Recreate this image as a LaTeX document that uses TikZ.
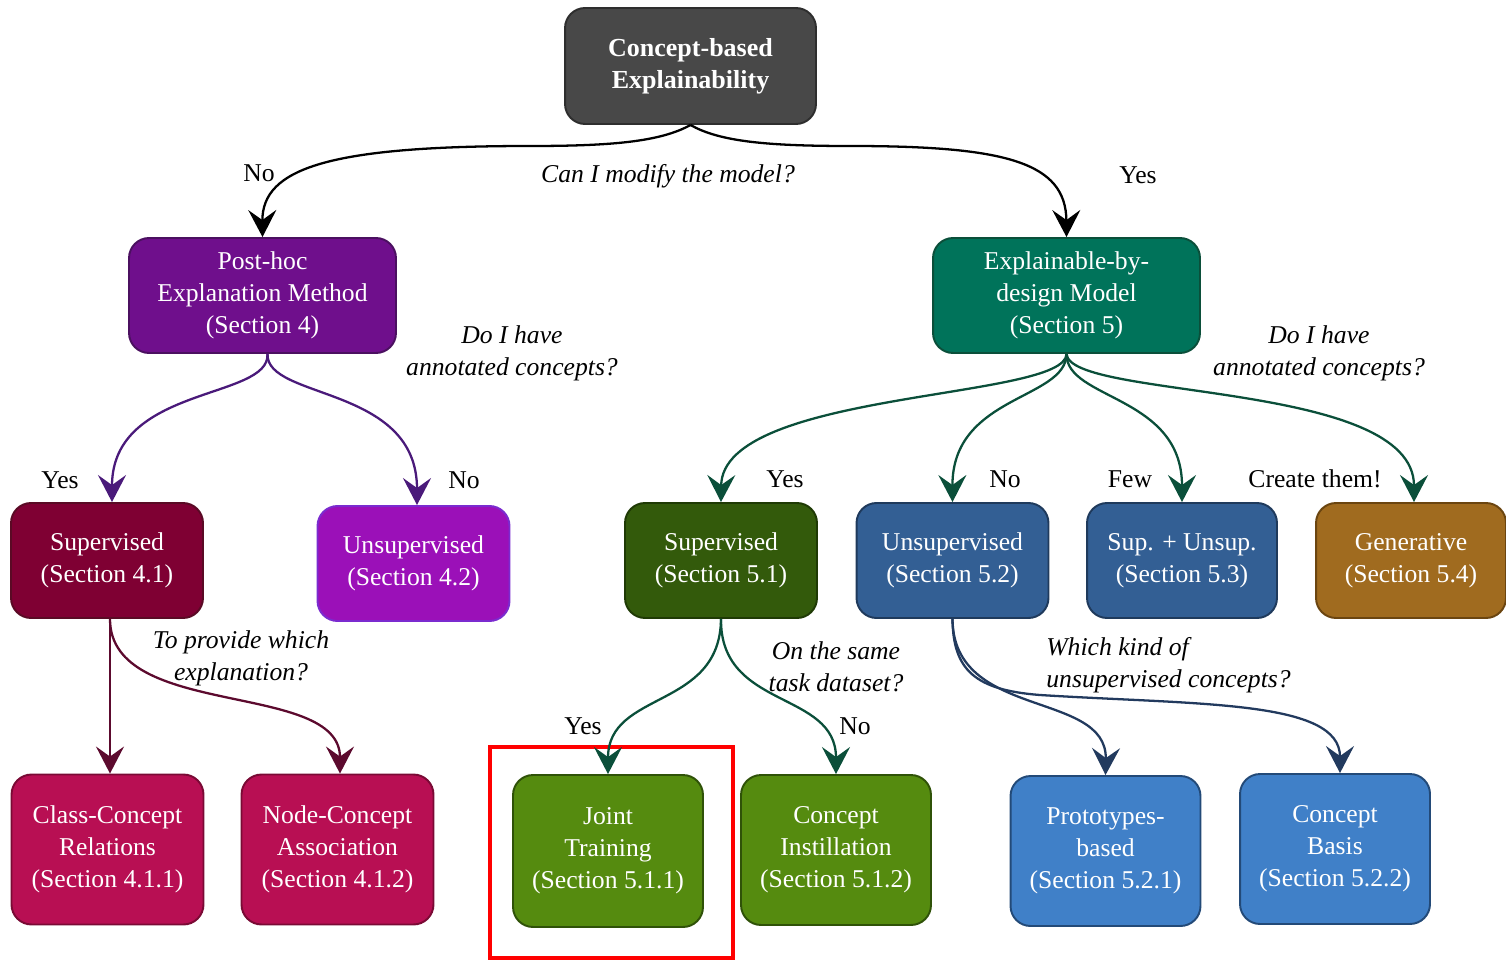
\documentclass[tikz,border=0pt]{standalone}
\usepackage{fontspec}
\setmainfont{Liberation Serif}
\usetikzlibrary{arrows.meta}
\definecolor{cgray}{HTML}{484848}\definecolor{cgrayd}{HTML}{2E2E2E}
\definecolor{cph}{HTML}{6F0F8C}\definecolor{cphd}{HTML}{4B1060}
\definecolor{cex}{HTML}{00735A}\definecolor{cexd}{HTML}{0B4F3A}
\definecolor{csa}{HTML}{7F0033}\definecolor{csad}{HTML}{5A0A25}
\definecolor{cua}{HTML}{9B10B8}\definecolor{cuad}{HTML}{7B2BCF}
\definecolor{csb}{HTML}{335A0B}\definecolor{csbd}{HTML}{1F3A05}
\definecolor{cub}{HTML}{335F94}\definecolor{cubd}{HTML}{1F3A5C}
\definecolor{cge}{HTML}{A06B1F}\definecolor{cged}{HTML}{6B4510}
\definecolor{ccl}{HTML}{B80F53}\definecolor{ccld}{HTML}{7A0A35}
\definecolor{cjo}{HTML}{558B0F}\definecolor{cjod}{HTML}{2F5208}
\definecolor{cpr}{HTML}{4080C8}\definecolor{cprd}{HTML}{234A78}
\definecolor{aph}{HTML}{4A1A7A}\definecolor{aex}{HTML}{0B4F3A}
\definecolor{asa}{HTML}{5C0A2E}\definecolor{aub}{HTML}{223A5E}
\tikzset{
  box/.style={rounded corners=0.4cm, draw, line width=1.1pt, text=white, align=center, inner sep=0pt},
  row2/.style={box, minimum width=3.84cm, minimum height=2.3cm},
  row3/.style={box, minimum width=3.84cm, minimum height=3cm},
  arr/.style={line width=1.3pt, -{Stealth[length=0.54cm,width=0.56cm,inset=0.2cm]}},
  lab/.style={inner sep=0pt},
  qq/.style={inner sep=0pt, align=center, font=\fontsize{14.6}{18.3}\selectfont\itshape},
}
\begin{document}
\begin{tikzpicture}[x=0.02cm,y=-0.02cm, font=\fontsize{14.6}{18.3}\selectfont]
\useasboundingbox (0,0) rectangle (1506,962);

% nodes
\node[box, fill=cgray, draw=cgrayd, minimum width=5.02cm, minimum height=2.32cm, font=\fontsize{14.8}{18.3}\selectfont\bfseries] (root) at (690.5,66) {Concept-based\\Explainability};
\node[box, fill=cph, draw=cphd, minimum width=5.34cm, minimum height=2.3cm] (posthoc) at (262.5,295.5) {Post-hoc\\Explanation Method\\(Section 4)};
\node[box, fill=cex, draw=cexd, minimum width=5.34cm, minimum height=2.3cm] (expl) at (1066.5,295.5) {Explainable-by-\\design Model\\(Section 5)};

\node[row2, fill=csa, draw=csad] (supa) at (107,560.5) {Supervised\\(Section 4.1)};
\node[row2, fill=cua, draw=cuad] (unsa) at (413.5,563.5) {Unsupervised\\(Section 4.2)};
\node[row2, fill=csb, draw=csbd] (supb) at (721,560.5) {Supervised\\(Section 5.1)};
\node[row2, fill=cub, draw=cubd] (unsb) at (952.5,560.5) {Unsupervised\\(Section 5.2)};
\node[row2, fill=cub, draw=cubd, minimum width=3.8cm] (supuns) at (1182,560.5) {Sup. + Unsup.\\(Section 5.3)};
\node[row2, fill=cge, draw=cged, minimum width=3.8cm] (gen) at (1411,560.5) {Generative\\(Section 5.4)};

\node[row3, fill=ccl, draw=ccld] (classc) at (107.5,849.5) {Class-Concept\\Relations\\(Section 4.1.1)};
\node[row3, fill=ccl, draw=ccld] (nodec) at (337.5,849.5) {Node-Concept\\Association\\(Section 4.1.2)};
\node[row3, fill=cjo, draw=cjod, minimum width=3.8cm, minimum height=3.04cm] (joint) at (608,851) {Joint\\Training\\(Section 5.1.1)};
\node[row3, fill=cjo, draw=cjod, minimum width=3.8cm] (instill) at (836,850) {Concept\\Instillation\\(Section 5.1.2)};
\node[row3, fill=cpr, draw=cprd, minimum width=3.8cm] (proto) at (1105.5,851) {Prototypes-\\based\\(Section 5.2.1)};
\node[row3, fill=cpr, draw=cprd, minimum width=3.8cm] (basis) at (1335,849) {Concept\\Basis\\(Section 5.2.2)};

% highlight
\node[draw=red, line width=2.8pt, minimum width=4.86cm, minimum height=4.22cm, inner sep=0pt] (hl) at (611.5,852.5) {};

% labels
\node[lab] (lno) at (259,173) {No};
\node[lab] (lyes) at (1138,175) {Yes};
\node[qq] (q1) at (668,176) {Can I modify the model?};
\node[qq] (q2) at (512,353) {Do I have\\annotated concepts?};
\node[qq] (q3) at (1319,353) {Do I have\\annotated concepts?};
\node[lab] (l1) at (60,480) {Yes};
\node[lab] (l2) at (464,480) {No};
\node[lab] (l3) at (785,479) {Yes};
\node[lab] (l4) at (1005,479) {No};
\node[lab] (l5) at (1130,479) {Few};
\node[lab] (l6) at (1315,479) {Create them!};
\node[qq] (q4) at (241,658) {To provide which\\explanation?};
\node[qq] (q5) at (836,667) {On the same\\task dataset?};
\node[lab] (l7) at (583,726) {Yes};
\node[lab] (l8) at (855,726) {No};
\node[qq, anchor=west, align=left] (q6) at (1046,665) {Which kind of\\unsupervised concepts?};

% connectors
\draw[arr, black] (root.south) .. controls (660,142) and (610,146) .. (530,146) .. controls (330,146) and (262,168) .. (posthoc.north);
\draw[arr, black] (root.south) .. controls (720,142) and (770,146) .. (850,146) .. controls (1005,146) and (1066,162) .. (expl.north);

\draw[arr, aph] ([xshift=0.1cm]posthoc.south) .. controls (270,400) and (112,385) .. ([xshift=0.1cm]supa.north);
\draw[arr, aph] ([xshift=0.1cm]posthoc.south) .. controls (266,400) and (417,385) .. ([xshift=0.07cm]unsa.north);

\draw[arr, aex] (expl.south) .. controls (1066,400) and (722,390) .. (supb.north);
\draw[arr, aex] (expl.south) .. controls (1066,400) and (952,395) .. (unsb.north);
\draw[arr, aex] (expl.south) .. controls (1066,400) and (1182,395) .. (supuns.north);
\draw[arr, aex] (expl.south) .. controls (1070,400) and (1414,380) .. ([xshift=0.06cm]gen.north);

\draw[arr, asa] ([xshift=0.06cm]supa.south) -- ([xshift=0.06cm]supa.south |- classc.north);
\draw[arr, asa] ([xshift=0.06cm]supa.south) .. controls (110,720) and (340,680) .. ([xshift=0.05cm]nodec.north);

\draw[arr, aex] (supb.south) .. controls (720,710) and (608,690) .. (joint.north);
\draw[arr, aex] (supb.south) .. controls (720,710) and (836,690) .. (instill.north);

\draw[arr, aub] (unsb.south) .. controls (953,720) and (1107,690) .. (proto.north);
\draw[arr, aub] (unsb.south) .. controls (953,670) and (975,690) .. (1040,695) .. controls (1200,705) and (1340,700) .. ([xshift=0.1cm]basis.north);
\end{tikzpicture}
\end{document}
